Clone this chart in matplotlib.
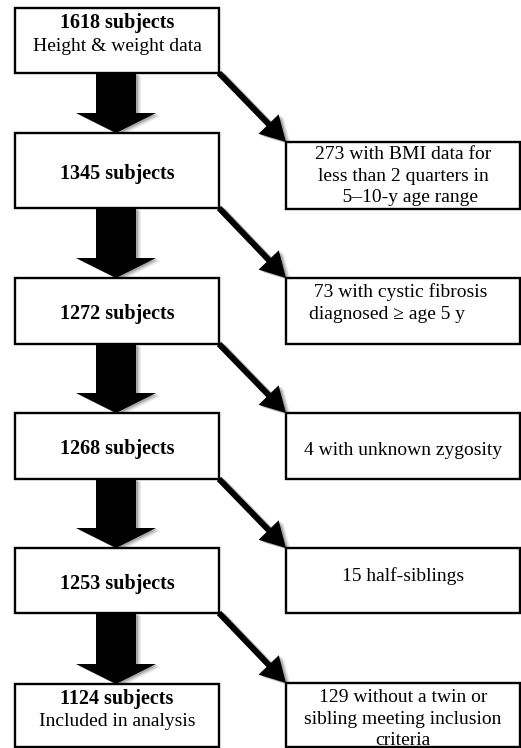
import matplotlib.pyplot as plt
import numpy as np
from matplotlib.patches import Polygon, Rectangle

plt.rcParams['font.family'] = ['Liberation Serif', 'DejaVu Serif']

# flowchart content
kept_counts = [1618, 1345, 1272, 1268, 1253, 1124]
kept_notes = ["Height & weight data", "", "", "", "", "Included in analysis"]
excluded = [
    "273 with BMI data for\nless than 2 quarters in\n   5\u201310-y age range",
    " 73 with cystic fibrosis\ndiagnosed \u2265 age 5 y",
    "4 with unknown zygosity",
    "15 half-siblings",
    "129 without a twin or\nsibling meeting inclusion\ncriteria",
]

# layout (pixels)
W, H = 521, 748
lx0, lx1 = 15, 219
rx0, rx1 = 286, 520
left_top = [8, 133, 278, 413, 548, 684]
left_bot = [73, 208, 344, 479, 613, 747]
right_top = [142, 278, 413, 548, 683]
right_bot = [209, 344, 479, 613, 747]

fig = plt.figure(figsize=(W / 100, H / 100), dpi=100)
ax = fig.add_axes([0, 0, 1, 1])
ax.set_xlim(0, W)
ax.set_ylim(H, 0)
ax.axis('off')


def arrow_poly(x0, y0, x1, y1, shaft, head_w, head_l):
    d = np.array([x1 - x0, y1 - y0], float)
    L = np.hypot(*d)
    u = d / L
    n = np.array([-u[1], u[0]])
    p0 = np.array([x0, y0], float)
    base = p0 + u * (L - head_l)
    tip = np.array([x1, y1], float)
    pts = [p0 + n * shaft / 2, base + n * shaft / 2, base + n * head_w / 2, tip,
           base - n * head_w / 2, base - n * shaft / 2, p0 - n * shaft / 2]
    return np.array(pts)


def draw_arrow(x0, y0, x1, y1, shaft, head_w, head_l):
    pts = arrow_poly(x0, y0, x1, y1, shaft, head_w, head_l)
    # soft drop shadow
    for k, a in [(5, 0.08), (3.5, 0.12), (2, 0.18)]:
        ax.add_patch(Polygon(pts + [k, k * 0.6], closed=True, fc='black',
                             ec='none', alpha=a, zorder=1))
    ax.add_patch(Polygon(pts, closed=True, fc='black', ec='none', zorder=2))


def draw_box(x0, x1, y0, y1):
    ax.add_patch(Rectangle((x0, y0), x1 - x0, y1 - y0, fc='white', ec='black',
                           lw=1.7, zorder=3))


cx = (lx0 + lx1) / 2
for i, n in enumerate(kept_counts):
    draw_box(lx0, lx1, left_top[i], left_bot[i])
    if kept_notes[i]:
        ax.text(cx, left_top[i] + 15, f"{n} subjects", ha='center', va='center',
                fontsize=14.5, fontweight='bold', zorder=4)
        ax.text(cx, left_top[i] + 38, kept_notes[i], ha='center', va='center',
                fontsize=14, zorder=4)
    else:
        ax.text(cx, (left_top[i] + left_bot[i]) / 2 + 3, f"{n} subjects",
                ha='center', va='center', fontsize=14.5, fontweight='bold', zorder=4)
    if i < len(kept_counts) - 1:
        # thick downward arrow
        draw_arrow(cx - 1, left_bot[i], cx - 1, left_top[i + 1], 40, 80, 20)

rcx = (rx0 + rx1) / 2
text_y = [176, 303, 450, 576, 719]
for i, t in enumerate(excluded):
    draw_box(rx0, rx1, right_top[i], right_bot[i])
    if i == 1:
        ax.text(309, text_y[i], t, ha='left', va='center', fontsize=14,
                multialignment='left', linespacing=1.32, zorder=4)
    else:
        ax.text(rcx, text_y[i], t, ha='center', va='center', fontsize=14,
                multialignment='center', linespacing=1.32, zorder=4)
    draw_arrow(lx1, left_bot[i], rx0, right_top[i], 6, 28, 25)

fig.savefig('out.png', dpi=100)
